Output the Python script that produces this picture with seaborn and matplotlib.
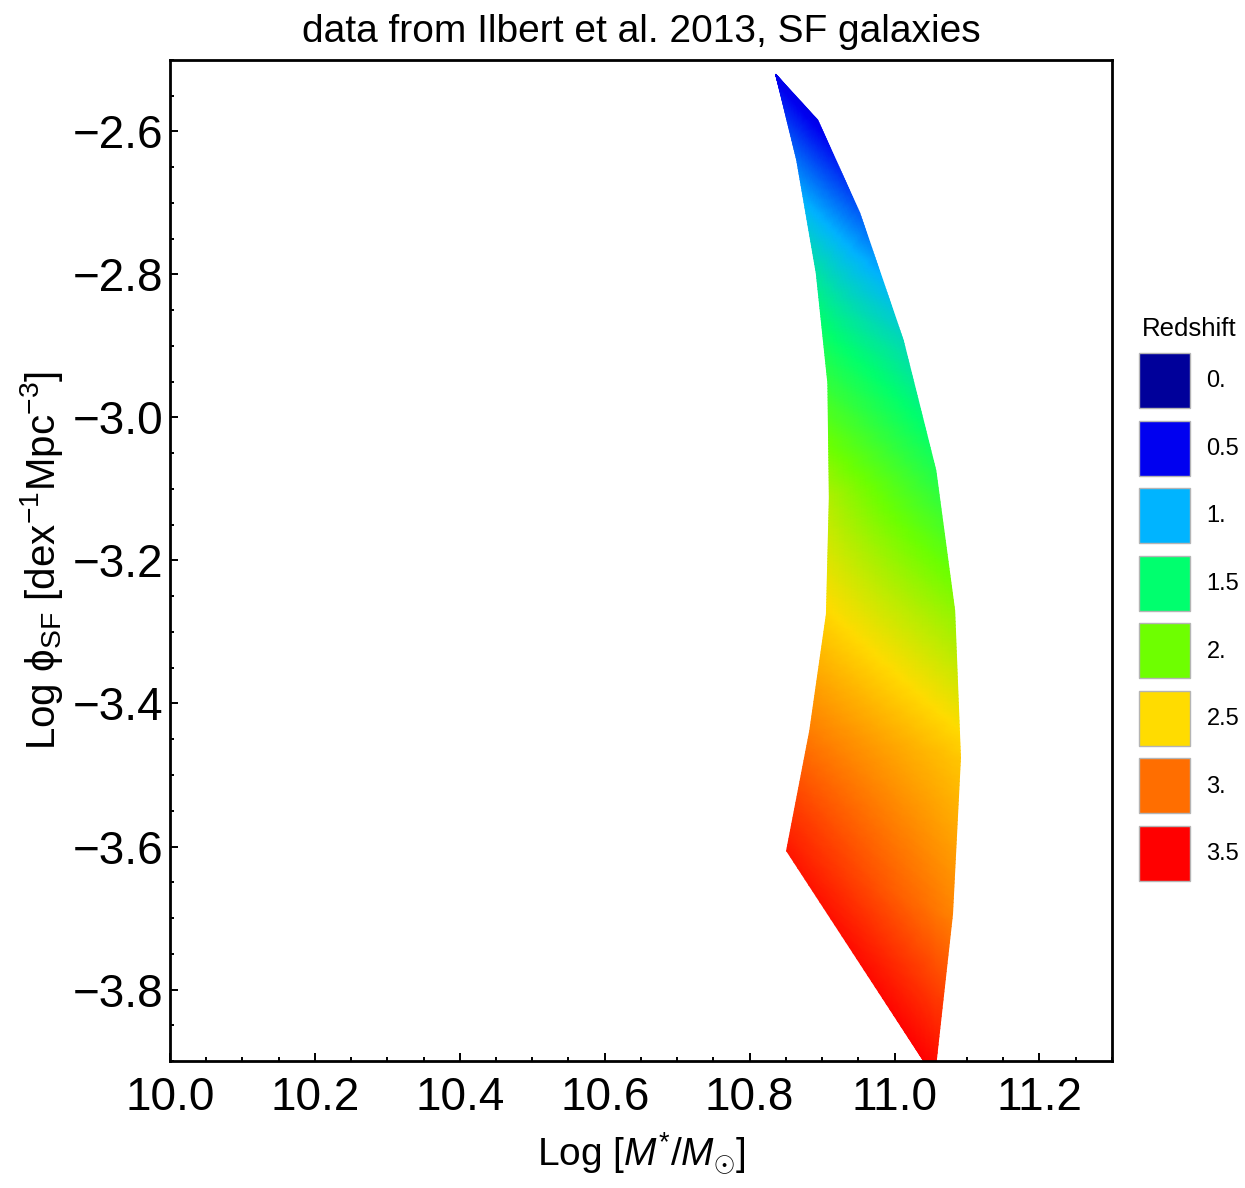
import numpy as np
import matplotlib
matplotlib.use("Agg")
import matplotlib.pyplot as plt
import seaborn as sns
from matplotlib.colors import LinearSegmentedColormap, Normalize
from matplotlib.patches import Patch
from matplotlib.ticker import MultipleLocator

# band edges: log stellar mass, log phi and the redshift read at each vertex
left_mass = [10.836, 10.865, 10.892, 10.908, 10.910, 10.906, 10.883, 10.851, 11.055]
left_logphi = [-2.520, -2.640, -2.798, -2.952, -3.112, -3.275, -3.438, -3.606, -3.923]
left_z = [0.47, 0.81, 1.32, 1.72, 2.22, 2.52, 2.92, 3.39, 3.50]

right_mass = [10.836, 10.894, 10.952, 11.012, 11.057, 11.083, 11.091, 11.080, 11.055]
right_logphi = [-2.520, -2.584, -2.714, -2.892, -3.074, -3.270, -3.476, -3.695, -3.923]
right_z = [0.47, 0.46, 0.76, 1.25, 1.64, 2.12, 2.59, 2.90, 3.50]

# legend
redshift_levels = [0.0, 0.5, 1.0, 1.5, 2.0, 2.5, 3.0, 3.5]
redshift_labels = ["0.", "0.5", "1.", "1.5", "2.", "2.5", "3.", "3.5"]
redshift_colors = ["#00009a", "#0000f0", "#00b4ff", "#00ff6e",
                   "#6eff00", "#ffdc00", "#ff6e00", "#ff0000"]

sns.set_theme(style="ticks")
plt.rcParams["font.family"] = ["Liberation Sans", "DejaVu Sans"]
plt.rcParams["mathtext.fontset"] = "custom"
plt.rcParams["mathtext.rm"] = "Liberation Sans"
plt.rcParams["mathtext.it"] = "Liberation Sans:italic"
plt.rcParams["mathtext.bf"] = "Liberation Sans:bold"
for key in ["text.color", "axes.labelcolor", "xtick.color", "ytick.color", "axes.edgecolor"]:
    plt.rcParams[key] = "black"

zmax = redshift_levels[-1]
cmap = LinearSegmentedColormap.from_list(
    "redshift", [(z / zmax, c) for z, c in zip(redshift_levels, redshift_colors)])
norm = Normalize(redshift_levels[0], zmax)

# fine mesh between the two edges
idx = np.arange(len(left_mass))
u = np.linspace(0, idx[-1], 321)
v = np.linspace(0, 1, 21)[None, :]

def across(a, b):
    return np.interp(u, idx, a)[:, None] * (1 - v) + np.interp(u, idx, b)[:, None] * v

X = across(left_mass, right_mass)
Y = across(left_logphi, right_logphi)
Z = across(left_z, right_z)

fig = plt.figure(figsize=(12.45, 11.88), dpi=100)
ax = fig.add_axes([0.1365, 0.1069, 0.7566, 0.8426])
ax.pcolormesh(X, Y, Z, shading="gouraud", cmap=cmap, norm=norm)

ax.set_xlim(10.0, 11.3)
ax.set_ylim(-3.9, -2.5)
ax.xaxis.set_major_locator(MultipleLocator(0.2))
ax.xaxis.set_minor_locator(MultipleLocator(0.05))
ax.yaxis.set_major_locator(MultipleLocator(0.2))
ax.yaxis.set_minor_locator(MultipleLocator(0.05))
ax.tick_params(which="both", direction="in", top=False, right=False,
               bottom=True, left=True, width=1.4)
ax.tick_params(which="major", length=6, labelsize=33)
ax.tick_params(which="minor", length=3)
ax.tick_params(axis="x", pad=11)
ax.tick_params(axis="y", pad=5)
for s in ax.spines.values():
    s.set_linewidth(2.0)

ax.set_title("data from Ilbert et al. 2013, SF galaxies", fontsize=28, pad=13)
ax.set_xlabel(r"Log [$M^{*}/M_{\odot}$]", fontsize=28, labelpad=8)
ax.set_ylabel(r"Log $\mathrm{\phi}_{\mathrm{SF}}$ [dex$^{-1}$Mpc$^{-3}$]", fontsize=29, labelpad=5)

handles = [Patch(facecolor=c, edgecolor="#b4b4b4", linewidth=1.0) for c in redshift_colors]
fig.legend(handles, redshift_labels, title="Redshift", loc="upper left",
           bbox_to_anchor=(1122 / 1245, 1 - 300 / 1188), frameon=False,
           fontsize=17, title_fontsize=18.5, handlelength=2.2, handleheight=3.21,
           labelspacing=0.53, handletextpad=0.68, borderpad=0.2)

fig.savefig("out.png", dpi=100)
